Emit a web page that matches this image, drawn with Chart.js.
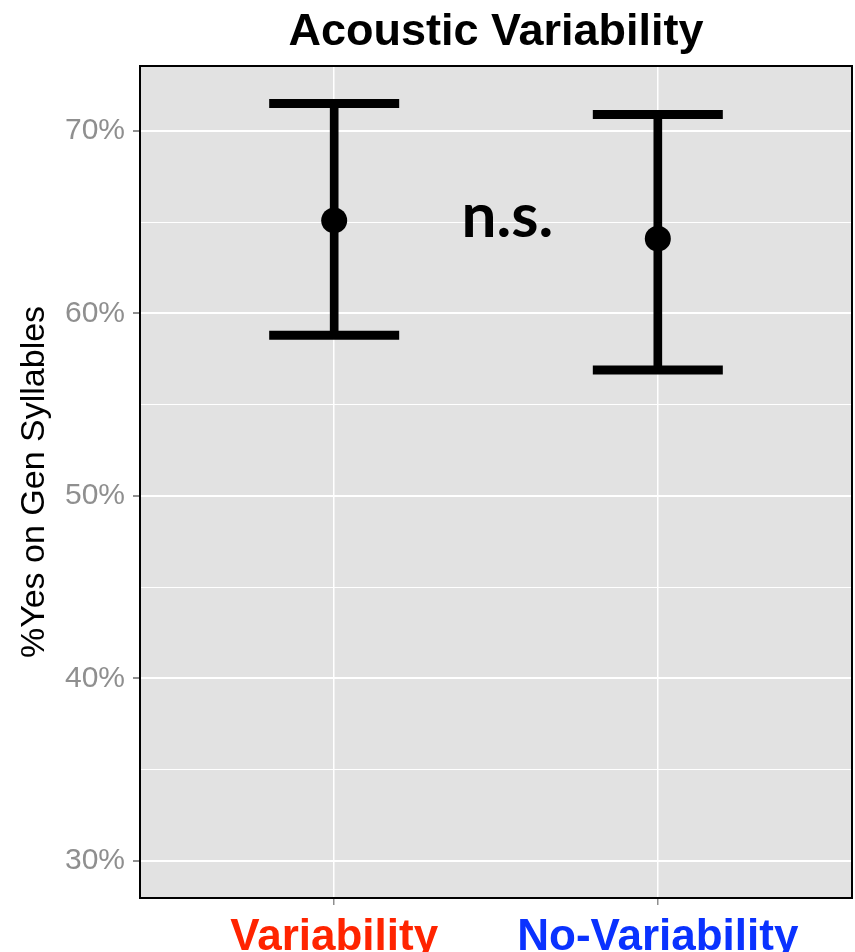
<!DOCTYPE html>
<html>
<head>
<meta charset="utf-8">
<title>Acoustic Variability</title>
<script src="https://cdn.jsdelivr.net/npm/chart.js@4.4.1/dist/chart.umd.min.js"></script>
<style>
  html, body { margin: 0; padding: 0; background: #ffffff; overflow: hidden; }
  #wrap { width: 855px; height: 952px; }
  canvas { display: block; }
</style>
</head>
<body>
<div id="wrap"><canvas id="chart" width="855" height="952"></canvas></div>
<script>
// Percent "yes" responses on generalisation syllables, with confidence limits
const conditions = ['Variability', 'No-Variability'];
const conditionColors = ['#FF2400', '#0A32FF'];
const meanYes = [65.1, 64.1];
const upperCI = [71.5, 70.9];
const lowerCI = [58.8, 56.9];

// Axis ticks (percent)
const majorTicks = [30, 40, 50, 60, 70];
const minorTicks = [35, 45, 55, 65];

const chartTitle = 'Acoustic Variability';
const yTitle = '%Yes on Gen Syllables';
const sigLabel = 'n.s.';

const FONT = '"Liberation Sans", Arial, Helvetica, sans-serif';
const TICK_GREY = '#8F8F8F';
const PANEL_GREY = '#E2E2E2';

// condition i sits at x = i + 1
const xPos = i => i + 1;

const capData = conditions.flatMap((c, i) => [
  { x: xPos(i), y: upperCI[i] },
  { x: xPos(i), y: lowerCI[i] }
]);
const stemData = conditions.map((c, i) => ({ x: xPos(i), y: [lowerCI[i], upperCI[i]] }));
const meanData = conditions.map((c, i) => ({ x: xPos(i), y: meanYes[i] }));

// keep the panel edges fixed regardless of label overhang
const noOverhang = s => {
  s.paddingLeft = 0; s.paddingRight = 0; s.paddingTop = 0; s.paddingBottom = 0;
};

// Panel background, frame, title and significance label
const decor = {
  id: 'decor',
  beforeDraw(chart) {
    const { ctx, chartArea: a } = chart;
    ctx.save();
    ctx.fillStyle = PANEL_GREY;
    ctx.fillRect(a.left, a.top, a.right - a.left, a.bottom - a.top);
    ctx.restore();
  },
  afterDraw(chart) {
    const { ctx, chartArea: a, scales } = chart;
    ctx.save();
    ctx.strokeStyle = '#000000';
    ctx.lineWidth = 2;
    ctx.strokeRect(a.left, a.top, a.right - a.left, a.bottom - a.top);

    ctx.fillStyle = '#000000';
    ctx.textAlign = 'center';
    ctx.textBaseline = 'alphabetic';
    ctx.font = 'bold 45px ' + FONT;
    ctx.fillText(chartTitle, (a.left + a.right) / 2, 45);

    ctx.font = 'bold 62px Lato, "Open Sans", sans-serif';
    ctx.fillText(sigLabel, scales.x.getPixelForValue(1.535), scales.y.getPixelForValue(64.2));
    ctx.restore();
  }
};

new Chart(document.getElementById('chart'), {
  type: 'scatter',
  data: {
    datasets: [
      {
        type: 'scatter',
        label: 'mean',
        data: meanData,
        pointRadius: 13,
        pointHoverRadius: 13,
        pointBackgroundColor: '#000000',
        pointBorderWidth: 0,
        order: 0
      },
      {
        type: 'bar',
        label: 'interval',
        data: stemData,
        barThickness: 8,
        backgroundColor: '#000000',
        borderWidth: 0,
        order: 1
      },
      {
        type: 'scatter',
        label: 'limits',
        data: capData,
        pointStyle: 'line',
        pointRadius: 65,
        pointHoverRadius: 65,
        pointBorderColor: '#000000',
        pointBorderWidth: 9,
        order: 2
      }
    ]
  },
  options: {
    responsive: false,
    animation: false,
    devicePixelRatio: 1,
    layout: { autoPadding: false, padding: { top: 66, right: 3, left: 0, bottom: 0 } },
    plugins: {
      legend: { display: false },
      tooltip: { enabled: false },
      title: { display: false }
    },
    scales: {
      x: {
        type: 'linear',
        min: 0.4,
        max: 2.6,
        offset: false,
        afterBuildTicks: s => { s.ticks = conditions.map((c, i) => ({ value: xPos(i) })); },
        afterFit: s => { s.height = 54; noOverhang(s); },
        ticks: {
          autoSkip: false,
          maxRotation: 0,
          padding: 6,
          callback: v => conditions[Math.round(v) - 1],
          color: ctx => conditionColors[ctx.index],
          font: { family: FONT, size: 44, weight: 'bold' }
        },
        grid: {
          offset: false,
          color: '#FFFFFF',
          lineWidth: 1.5,
          tickLength: 7,
          tickColor: TICK_GREY
        },
        border: { display: false }
      },
      y: {
        type: 'linear',
        min: 27.97,
        max: 73.56,
        afterBuildTicks: s => {
          s.ticks = [...majorTicks, ...minorTicks].sort((p, q) => p - q).map(v => ({ value: v }));
        },
        afterFit: s => { s.width = 140; noOverhang(s); },
        ticks: {
          autoSkip: false,
          padding: 8,
          callback: v => (majorTicks.includes(v) ? v + '%' : ''),
          color: TICK_GREY,
          font: { family: FONT, size: 30 }
        },
        grid: {
          color: '#FFFFFF',
          lineWidth: ctx => (majorTicks.includes(ctx.tick.value) ? 2 : 1),
          tickLength: 7,
          tickColor: ctx => (majorTicks.includes(ctx.tick.value) ? TICK_GREY : 'rgba(0,0,0,0)')
        },
        border: { display: false },
        title: {
          display: true,
          text: yTitle,
          color: '#000000',
          font: { family: FONT, size: 34 },
          padding: { top: 14, bottom: 0 }
        }
      }
    }
  },
  plugins: [decor]
});
</script>
</body>
</html>
